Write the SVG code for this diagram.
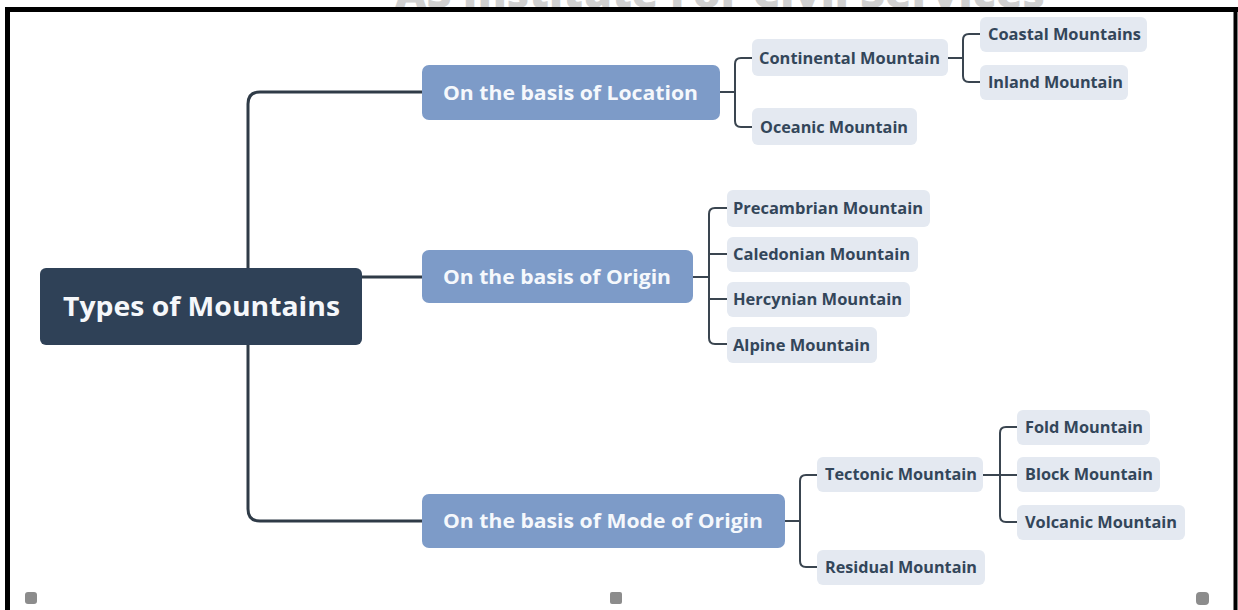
<svg xmlns="http://www.w3.org/2000/svg" width="1238" height="610" viewBox="0 0 1238 610">
  <style>
    .root-box { fill: #2f4157; }
    .root-text { font-family: "Open Sans", "Noto Sans", "Liberation Sans", sans-serif; font-weight: 700; font-size: 27px; fill: #f5f7fa; }
    .l1-box { fill: #7d9bc8; }
    .l1-text { font-family: "Open Sans", "Noto Sans", "Liberation Sans", sans-serif; font-weight: 700; font-size: 20px; fill: #f5f8fc; }
    .leaf-box { fill: #e4e9f1; }
    .leaf-text { font-family: "Open Sans", "Noto Sans", "Liberation Sans", sans-serif; font-weight: 700; font-size: 16px; fill: #33465a; }
    .trunk { fill: none; stroke: #2f3b47; stroke-width: 3; stroke-linejoin: round; }
    .branch { fill: none; stroke: #3a4550; stroke-width: 2; stroke-linejoin: round; }
    .handle { fill: #8c8c8c; }
    .frame { stroke: #000; fill: none; }
    .mark { font-family: "Open Sans", "Noto Sans", "Liberation Sans", sans-serif; font-weight: 800; font-size: 40px; fill: #d0d0d0; }
  </style>

  <rect x="0" y="0" width="1238" height="610" fill="#ffffff"/>

  <!-- banner text, mostly above the frame -->
  <text class="mark" x="395" y="8" textLength="650" lengthAdjust="spacingAndGlyphs">AS Institute For Civil Services</text>

  <!-- frame -->
  <g id="frame">
    <line class="frame" x1="7.5" y1="7" x2="7.5" y2="610" stroke-width="5"/>
    <line class="frame" x1="5" y1="9.5" x2="1238" y2="9.5" stroke-width="5"/>
    <line class="frame" x1="1235.5" y1="7" x2="1235.5" y2="610" stroke-width="4"/>
  </g>

  <!-- connectors -->
  <g id="connectors">
    <path class="trunk" d="M422,92 H260 Q248,92 248,104 V509 Q248,521 260,521 H422"/>
    <path class="trunk" d="M248,277 H422"/>

    <!-- location -->
    <path class="branch" d="M720,92 H735"/>
    <path class="branch" d="M752,58 H741 Q735,58 735,64 V121 Q735,127 741,127 H752"/>
    <path class="branch" d="M948,58 H963"/>
    <path class="branch" d="M980,34 H969 Q963,34 963,40 V76 Q963,82 969,82 H980"/>

    <!-- origin -->
    <path class="branch" d="M693,277 H709"/>
    <path class="branch" d="M727,208 H715 Q709,208 709,214 V338 Q709,344 715,344 H727"/>
    <path class="branch" d="M709,254 H727 M709,299 H727"/>

    <!-- mode of origin -->
    <path class="branch" d="M785,521 H800"/>
    <path class="branch" d="M817,475 H806 Q800,475 800,481 V561 Q800,567 806,567 H817"/>
    <path class="branch" d="M983,475 H1017"/>
    <path class="branch" d="M1017,427 H1006 Q1000,427 1000,433 V516 Q1000,522 1006,522 H1017"/>
  </g>

  <!-- root -->
  <g id="node-root">
    <rect class="root-box" x="40" y="268" width="322" height="77" rx="6"/>
    <text class="root-text" x="63" y="316" textLength="277" lengthAdjust="spacingAndGlyphs">Types of Mountains</text>
  </g>

  <!-- first level -->
  <g id="node-location">
    <rect class="l1-box" x="422" y="65" width="298" height="55" rx="7"/>
    <text class="l1-text" x="443" y="99.5" textLength="255" lengthAdjust="spacingAndGlyphs">On the basis of Location</text>
  </g>
  <g id="node-origin">
    <rect class="l1-box" x="422" y="250" width="271" height="53" rx="7"/>
    <text class="l1-text" x="443" y="283.5" textLength="228" lengthAdjust="spacingAndGlyphs">On the basis of Origin</text>
  </g>
  <g id="node-mode">
    <rect class="l1-box" x="422" y="494" width="363" height="54" rx="7"/>
    <text class="l1-text" x="443" y="528" textLength="320" lengthAdjust="spacingAndGlyphs">On the basis of Mode of Origin</text>
  </g>

  <!-- location children -->
  <g id="node-continental">
    <rect class="leaf-box" x="752" y="39" width="196" height="37" rx="6"/>
    <text class="leaf-text" x="759" y="63.5" textLength="181" lengthAdjust="spacingAndGlyphs">Continental Mountain</text>
  </g>
  <g id="node-oceanic">
    <rect class="leaf-box" x="752" y="108" width="165" height="37" rx="6"/>
    <text class="leaf-text" x="760" y="132.5" textLength="148" lengthAdjust="spacingAndGlyphs">Oceanic Mountain</text>
  </g>
  <g id="node-coastal">
    <rect class="leaf-box" x="980" y="17" width="167" height="35" rx="6"/>
    <text class="leaf-text" x="988" y="40" textLength="153" lengthAdjust="spacingAndGlyphs">Coastal Mountains</text>
  </g>
  <g id="node-inland">
    <rect class="leaf-box" x="980" y="65" width="148" height="35" rx="6"/>
    <text class="leaf-text" x="988" y="88" textLength="135" lengthAdjust="spacingAndGlyphs">Inland Mountain</text>
  </g>

  <!-- origin children -->
  <g id="node-precambrian">
    <rect class="leaf-box" x="727" y="190" width="203" height="37" rx="6"/>
    <text class="leaf-text" x="733" y="214" textLength="190" lengthAdjust="spacingAndGlyphs">Precambrian Mountain</text>
  </g>
  <g id="node-caledonian">
    <rect class="leaf-box" x="727" y="237" width="191" height="35" rx="6"/>
    <text class="leaf-text" x="733" y="260" textLength="177" lengthAdjust="spacingAndGlyphs">Caledonian Mountain</text>
  </g>
  <g id="node-hercynian">
    <rect class="leaf-box" x="727" y="282" width="183" height="35" rx="6"/>
    <text class="leaf-text" x="733" y="305" textLength="169" lengthAdjust="spacingAndGlyphs">Hercynian Mountain</text>
  </g>
  <g id="node-alpine">
    <rect class="leaf-box" x="727" y="327" width="150" height="36" rx="6"/>
    <text class="leaf-text" x="733" y="350.5" textLength="137" lengthAdjust="spacingAndGlyphs">Alpine Mountain</text>
  </g>

  <!-- mode of origin children -->
  <g id="node-tectonic">
    <rect class="leaf-box" x="817" y="457" width="166" height="35" rx="6"/>
    <text class="leaf-text" x="825" y="480" textLength="152" lengthAdjust="spacingAndGlyphs">Tectonic Mountain</text>
  </g>
  <g id="node-residual">
    <rect class="leaf-box" x="817" y="550" width="168" height="35" rx="6"/>
    <text class="leaf-text" x="825" y="573" textLength="152" lengthAdjust="spacingAndGlyphs">Residual Mountain</text>
  </g>
  <g id="node-fold">
    <rect class="leaf-box" x="1017" y="410" width="133" height="35" rx="6"/>
    <text class="leaf-text" x="1025" y="433" textLength="118" lengthAdjust="spacingAndGlyphs">Fold Mountain</text>
  </g>
  <g id="node-block">
    <rect class="leaf-box" x="1017" y="457" width="143" height="35" rx="6"/>
    <text class="leaf-text" x="1025" y="480" textLength="128" lengthAdjust="spacingAndGlyphs">Block Mountain</text>
  </g>
  <g id="node-volcanic">
    <rect class="leaf-box" x="1017" y="505" width="168" height="35" rx="6"/>
    <text class="leaf-text" x="1025" y="528" textLength="152" lengthAdjust="spacingAndGlyphs">Volcanic Mountain</text>
  </g>

  <!-- resize handles along the lower edge -->
  <g id="handles">
    <rect class="handle" x="25" y="592" width="12" height="12" rx="3"/>
    <rect class="handle" x="610" y="592" width="12" height="12" rx="2"/>
    <rect class="handle" x="1196" y="592" width="13" height="13" rx="4"/>
  </g>
</svg>
